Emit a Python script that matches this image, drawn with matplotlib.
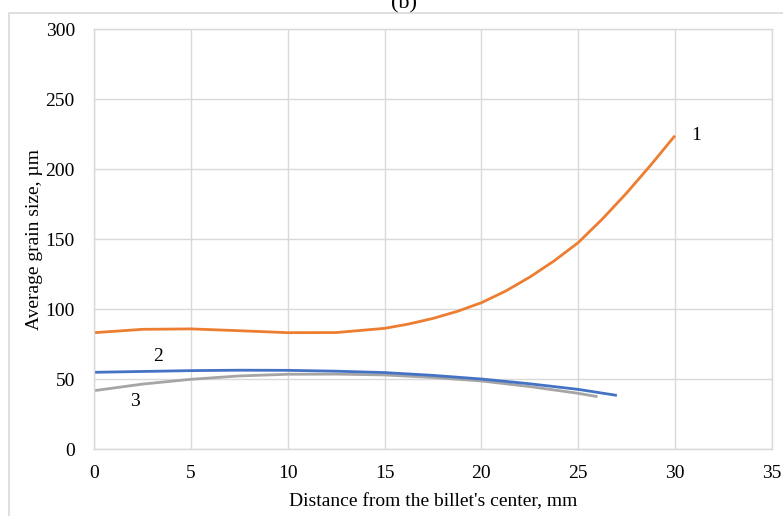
import matplotlib
matplotlib.use('Agg')
import matplotlib.pyplot as plt
from matplotlib.patches import Rectangle

# values
x1 = [0, 2.5, 5, 7.5, 10, 12.5, 15, 16.25, 17.5, 18.75, 20, 21.25, 22.5,
      23.75, 25, 26.25, 27.5, 28.75, 30]
y1 = [83.3, 85.7, 86.0, 84.7, 83.3, 83.4, 86.4, 89.5, 93.5, 98.5, 104.7, 113.0,
      123.0, 134.5, 147.6, 164.5, 183.0, 203.0, 224.0]

x2 = [0, 2.5, 5, 7.5, 10, 12.5, 15, 17.5, 20, 22.5, 25, 27]
y2 = [55.0, 55.6, 56.2, 56.5, 56.4, 55.8, 54.8, 52.8, 50.2, 46.8, 42.8, 38.5]

x3 = [0, 2.5, 5, 7.5, 10, 12.5, 15, 17.5, 20, 22.5, 25, 26]
y3 = [41.9, 46.6, 50.0, 52.4, 53.6, 53.7, 53.1, 51.3, 48.8, 44.8, 40.0, 37.6]

x_ticks = [0, 5, 10, 15, 20, 25, 30, 35]
y_ticks = [0, 50, 100, 150, 200, 250, 300]

plt.rcParams['font.family'] = ['Liberation Serif', 'DejaVu Serif']

fig = plt.figure(figsize=(7.83, 5.16), dpi=100)
ax = fig.add_axes([94.3 / 783, 1 - 449.3 / 516, (771.7 - 94.3) / 783, (449.3 - 29.3) / 516])

grid_color = '#d9d9d9'
ax.plot(x1, y1, color='#ED7D31', linewidth=2.0, solid_capstyle='butt')
ax.plot(x3, y3, color='#A5A5A5', linewidth=2.0, solid_capstyle='butt')
ax.plot(x2, y2, color='#4472C4', linewidth=2.0, solid_capstyle='butt')

ax.set_xlim(0, 35)
ax.set_ylim(0, 300)
ax.set_xticks(x_ticks)
ax.set_yticks(y_ticks)
ax.grid(True, color=grid_color, linewidth=1.0)
ax.set_axisbelow(True)
for s in ax.spines.values():
    s.set_color(grid_color)
    s.set_linewidth(1.0)
ax.tick_params(length=0, labelsize=14)
ax.tick_params(axis='x', pad=11)
ax.tick_params(axis='y', pad=14)

ax.set_xlabel("Distance from the billet's center, mm", fontsize=14, labelpad=8)
fig.text(35 / 783, 1 - 240 / 516, 'Average grain size, µm', fontsize=14,
         rotation=90, ha='center', va='center')

ax.text(31.1, 224, '1', fontsize=14, va='center', ha='center')
ax.text(3.3, 66, '2', fontsize=14, va='center', ha='center')
ax.text(2.1, 34, '3', fontsize=14, va='center', ha='center')

# outer chart frame and cut-off panel title
fig.patches.append(Rectangle((9 / 783, -0.1), 1.2, 1 - 13 / 516 + 0.1,
                             transform=fig.transFigure, fill=False,
                             edgecolor=grid_color, linewidth=1.2))
fig.text(404 / 783, 1 - 8 / 516, '(b)', fontsize=16, ha='center', va='baseline')

fig.savefig('out.png', dpi=100)
